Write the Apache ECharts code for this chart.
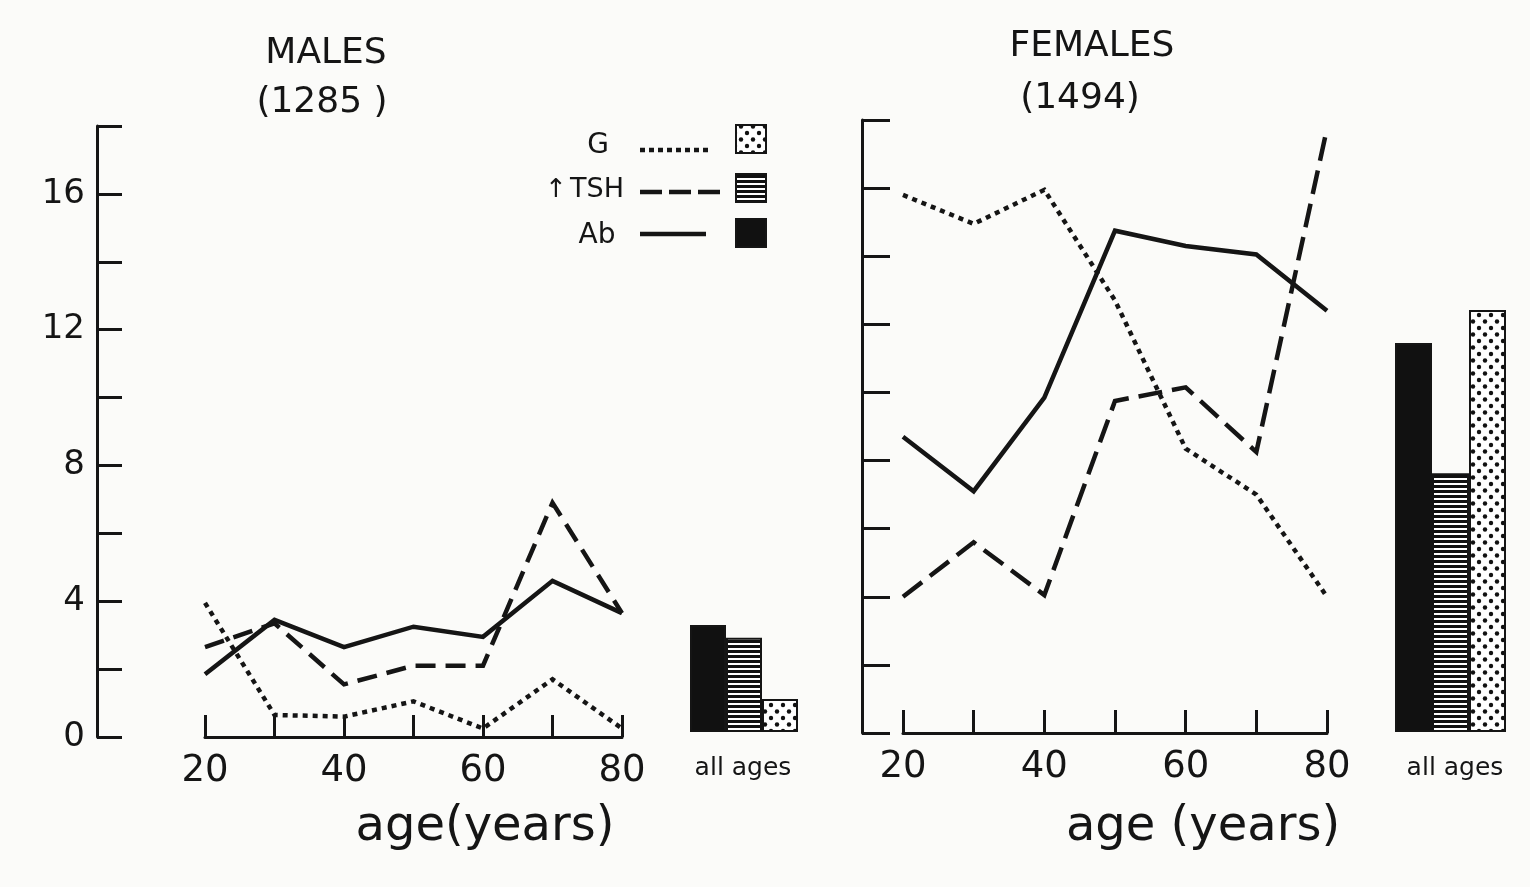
<!DOCTYPE html>
<html>
<head>
<meta charset="utf-8">
<script src="https://cdn.jsdelivr.net/npm/echarts@6/dist/echarts.min.js"></script>
<style>
html,body{margin:0;padding:0;background:#fbfbf9;}
#chart{width:1530px;height:887px;}
</style>
</head>
<body>
<div id="chart"></div>
<script>
// ---- data ----
var ages = [20, 30, 40, 50, 60, 70, 80];
var maleAb  = [1.85, 3.45, 2.65, 3.25, 2.95, 4.6, 3.65];
var maleTSH = [2.65, 3.35, 1.55, 2.1, 2.1, 6.9, 3.65];
var maleG   = [3.95, 0.65, 0.6, 1.05, 0.25, 1.7, 0.25];
var femAb   = [8.7, 7.1, 9.85, 14.75, 14.3, 14.05, 12.4];
var femTSH  = [4.0, 5.6, 4.05, 9.75, 10.15, 8.25, 17.75];
var femG    = [15.8, 14.95, 15.95, 12.7, 8.35, 7.0, 4.0];
var barCats = ['Ab', 'TSH', 'G'];
var maleAll = [3.15, 2.78, 0.97];
var femAll  = [11.42, 7.6, 12.39];
var yTicks = [0, 4, 8, 12, 16];
var xTicks = [20, 40, 60, 80];

// ---- patterns ----
function makeDots() {
  var c = document.createElement('canvas'); c.width = 12; c.height = 13;
  var g = c.getContext('2d');
  g.fillStyle = '#fff'; g.fillRect(0, 0, 12, 13);
  g.fillStyle = '#111';
  g.beginPath(); g.arc(3, 3, 2.2, 0, Math.PI * 2); g.fill();
  g.beginPath(); g.arc(9, 9.5, 2.2, 0, Math.PI * 2); g.fill();
  return c;
}
function makeStripes() {
  var c = document.createElement('canvas'); c.width = 4; c.height = 5;
  var g = c.getContext('2d');
  g.fillStyle = '#fff'; g.fillRect(0, 0, 4, 5);
  g.fillStyle = '#111'; g.fillRect(0, 0, 4, 3);
  return c;
}
var dotFill = { image: makeDots(), repeat: 'repeat' };
var stripeFill = { image: makeStripes(), repeat: 'repeat' };
var barFills = ['#111', stripeFill, dotFill];

var INK = '#151515';
var FONT = 'DejaVu Sans';
var chart = echarts.init(document.getElementById('chart'));

function xAxisDef(gi, tickLen) {
  return {
    type: 'value', gridIndex: gi, min: 20, max: 80, interval: 10,
    axisLine: { show: true, lineStyle: { color: INK, width: 3 } },
    axisTick: { show: true, inside: true, length: tickLen, lineStyle: { color: INK, width: 3 } },
    splitLine: { show: false },
    axisLabel: {
      color: INK, fontSize: 37, fontFamily: FONT, margin: 16,
      formatter: function (v) { return xTicks.indexOf(v) >= 0 ? String(v) : ''; }
    }
  };
}
function yAxisDef(gi, offset, showLabels, tickLen) {
  return {
    type: 'value', gridIndex: gi, min: 0, max: 18, interval: 2, offset: offset,
    axisLine: { show: true, lineStyle: { color: INK, width: 3 } },
    axisTick: { show: true, inside: true, length: tickLen, lineStyle: { color: INK, width: 3 } },
    splitLine: { show: false },
    axisLabel: {
      show: showLabels, color: INK, fontSize: 34, fontFamily: FONT, margin: 12,
      formatter: function (v) { return yTicks.indexOf(v) >= 0 ? String(v) : ''; }
    }
  };
}
function hiddenCat(gi) {
  return { type: 'category', gridIndex: gi, data: barCats, show: false };
}
function hiddenVal(gi) {
  return { type: 'value', gridIndex: gi, min: 0, max: 18, show: false, splitLine: { show: false } };
}
function pairs(vals) { return ages.map(function (a, i) { return [a, vals[i]]; }); }
function lineSeries(gi, vals, type, width) {
  return {
    type: 'line', xAxisIndex: gi, yAxisIndex: gi, data: pairs(vals),
    symbol: 'none', silent: true, animation: false,
    lineStyle: { color: INK, width: width, type: type, cap: 'butt', join: 'miter' }
  };
}
function barSeries(gi, vals) {
  return {
    type: 'bar', xAxisIndex: gi, yAxisIndex: gi, barWidth: '100%', animation: false, silent: true,
    data: vals.map(function (v, i) {
      return { value: v, itemStyle: { color: barFills[i], borderColor: INK, borderWidth: 2 } };
    })
  };
}

function txt(x, y, s, size) {
  return { type: 'text', x: x, y: y, silent: true,
    style: { text: s, fill: INK, fontSize: size, fontFamily: FONT, textAlign: 'center', textVerticalAlign: 'middle' } };
}

var option = {
  backgroundColor: '#fbfbf9',
  animation: false,
  grid: [
    { left: 205, right: 908, top: 126, bottom: 150 },   // males lines
    { left: 690, right: 732, top: 121, bottom: 155 },   // males bars
    { left: 903, right: 203, top: 120, bottom: 154 },   // females lines
    { left: 1395, right: 24, top: 119, bottom: 155 }    // females bars
  ],
  xAxis: [xAxisDef(0, 22), hiddenCat(1), xAxisDef(2, 23), hiddenCat(3)],
  yAxis: [yAxisDef(0, 108, true, 25), hiddenVal(1), yAxisDef(2, 41, false, 28), hiddenVal(3)],
  series: [
    lineSeries(0, maleG, [5, 5], 4.5),
    lineSeries(0, maleTSH, [20, 10], 4.5),
    lineSeries(0, maleAb, 'solid', 4.5),
    barSeries(1, maleAll),
    lineSeries(2, femG, [5, 5], 4.5),
    lineSeries(2, femTSH, [24, 10], 4.5),
    lineSeries(2, femAb, 'solid', 4.5),
    barSeries(3, femAll)
  ],
  graphic: [
    txt(326, 54, 'MALES', 36),
    txt(322, 103, '(1285 )', 36),
    txt(1092, 47, 'FEMALES', 36),
    txt(1080, 99, '(1494)', 36),
    txt(485, 828, 'age(years)', 48),
    txt(1203, 828, 'age (years)', 48),
    txt(743, 768, 'all ages', 25),
    txt(1455, 768, 'all ages', 25),
    // legend
    txt(598, 146, 'G', 28),
    txt(556, 190, '\u2191', 26),
    txt(597, 190, 'TSH', 27),
    txt(597, 236, 'Ab', 28),
    { type: 'line', silent: true, shape: { x1: 640, y1: 150, x2: 712, y2: 150 },
      style: { stroke: INK, lineWidth: 4.5, lineDash: [5, 4] } },
    { type: 'line', silent: true, shape: { x1: 640, y1: 192, x2: 722, y2: 192 },
      style: { stroke: INK, lineWidth: 4.5, lineDash: [22, 7] } },
    { type: 'line', silent: true, shape: { x1: 640, y1: 234, x2: 706, y2: 234 },
      style: { stroke: INK, lineWidth: 4.5 } },
    { type: 'rect', silent: true, shape: { x: 736, y: 125, width: 30, height: 28 },
      style: { fill: dotFill, stroke: INK, lineWidth: 2 } },
    { type: 'rect', silent: true, shape: { x: 736, y: 174, width: 30, height: 28 },
      style: { fill: stripeFill, stroke: INK, lineWidth: 2 } },
    { type: 'rect', silent: true, shape: { x: 736, y: 219, width: 30, height: 28 },
      style: { fill: '#111', stroke: INK, lineWidth: 2 } }
  ]
};
chart.setOption(option);
</script>
</body>
</html>
